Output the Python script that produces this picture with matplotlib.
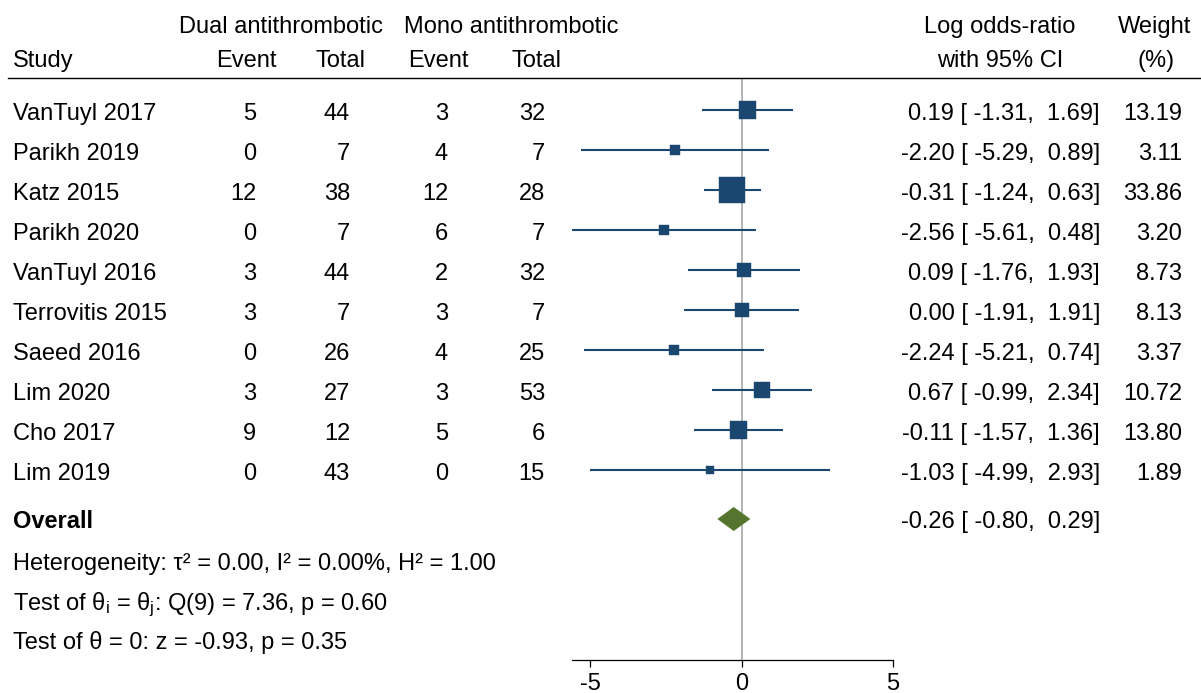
import matplotlib
matplotlib.use("Agg")
import matplotlib.pyplot as plt
import matplotlib.transforms as mtransforms
from matplotlib.lines import Line2D
import numpy as np

# ---------------- data ----------------
studies = ['VanTuyl 2017', 'Parikh 2019', 'Katz 2015', 'Parikh 2020', 'VanTuyl 2016',
           'Terrovitis 2015', 'Saeed 2016', 'Lim 2020', 'Cho 2017', 'Lim 2019']
dual_event = [5, 0, 12, 0, 3, 3, 0, 3, 9, 0]
dual_total = [44, 7, 38, 7, 44, 7, 26, 27, 12, 43]
mono_event = [3, 4, 12, 6, 2, 3, 4, 3, 5, 0]
mono_total = [32, 7, 28, 7, 32, 7, 25, 53, 6, 15]
log_or = [0.19, -2.20, -0.31, -2.56, 0.09, 0.00, -2.24, 0.67, -0.11, -1.03]
ci_low = [-1.31, -5.29, -1.24, -5.61, -1.76, -1.91, -5.21, -0.99, -1.57, -4.99]
ci_high = [1.69, 0.89, 0.63, 0.48, 1.93, 1.91, 0.74, 2.34, 1.36, 2.93]
weights = [13.19, 3.11, 33.86, 3.20, 8.73, 8.13, 3.37, 10.72, 13.80, 1.89]
overall_es, overall_lo, overall_hi = -0.26, -0.80, 0.29
x_ticks = [-5, 0, 5]
stats_lines = [
    'Heterogeneity: τ² = 0.00, I² = 0.00%, H² = 1.00',
    r'Test of θ$_\mathrm{i}$ = θ$_\mathrm{j}$: Q(9) = 7.36, p = 0.60',
    'Test of θ = 0: z = -0.93, p = 0.35',
]

# ---------------- style ----------------
plt.rcParams['font.family'] = ['Liberation Sans', 'DejaVu Sans']
plt.rcParams['mathtext.fontset'] = 'custom'
plt.rcParams['mathtext.rm'] = 'Liberation Sans'
plt.rcParams['mathtext.it'] = 'Liberation Sans:italic'
plt.rcParams['mathtext.bf'] = 'Liberation Sans:bold'
plt.rcParams['axes.unicode_minus'] = False

W, H = 1201, 693
FS = 17
NAVY = '#1a476f'
GREEN = '#55752f'

fig = plt.figure(figsize=(W / 100, H / 100), dpi=100)
fig.patch.set_facecolor('white')

# pixel transform (origin top-left)
px = mtransforms.Affine2D().scale(1 / W, -1 / H).translate(0, 1) + fig.transFigure

# forest axes
ax_left, ax_right, ax_top, ax_bot = 572, 893, 79, 660
fx = fig.add_axes([ax_left / W, 1 - ax_bot / H, (ax_right - ax_left) / W, (ax_bot - ax_top) / H])
fx.set_xlim(-5.6, 5.0)
row0, step = 110, 40
fx.set_ylim((ax_bot - row0) / step, (ax_top - row0) / step)
for s in ['left', 'top', 'right']:
    fx.spines[s].set_visible(False)
fx.spines['bottom'].set_linewidth(0.9)
fx.set_yticks([])
fx.set_xticks(x_ticks)
fx.set_xticklabels([str(t) for t in x_ticks])
fx.tick_params(axis='x', direction='out', length=5.0, width=0.9, labelsize=FS, pad=4.0)
fx.patch.set_alpha(0)

fx.axvline(0, color='#a0a0a0', lw=1.1, zorder=1)

rows = np.arange(len(studies))
fx.hlines(rows, ci_low, ci_high, color=NAVY, lw=1.5, zorder=2)
side_px = 4.0 * np.sqrt(np.array(weights)) + 2.5
fx.scatter(log_or, rows, s=(side_px * 0.72) ** 2, marker='s', color=NAVY,
           edgecolors=NAVY, linewidths=0.3, zorder=3)

r_overall = (519 - row0) / step
dh = 12 / step
fx.fill([overall_lo, overall_es, overall_hi, overall_es],
        [r_overall, r_overall - dh, r_overall, r_overall + dh],
        color=GREEN, lw=0, zorder=3)

# ---------------- text ----------------
def t(x, y, s, ha='left', **kw):
    fig.text(x, y, s, ha=ha, va='baseline', fontsize=FS, transform=px, **kw)

# header
t(281, 33, 'Dual antithrombotic', ha='center')
t(511, 33, 'Mono antithrombotic', ha='center')
t(1000, 33, 'Log odds-ratio', ha='center')
t(1155, 33, 'Weight', ha='center')
t(13, 67, 'Study')
t(277, 67, 'Event', ha='right')
t(366, 67, 'Total', ha='right')
t(469, 67, 'Event', ha='right')
t(561, 67, 'Total', ha='right')
t(1000, 67, 'with 95% CI', ha='center')
t(1156, 67, '(%)', ha='center')
fig.add_artist(Line2D([8, W], [78, 78], color='black', lw=1.0, transform=px))

for i, name in enumerate(studies):
    yb = row0 + step * i + 10
    t(13, yb, name)
    t(256, yb, str(dual_event[i]), ha='right')
    t(350, yb, str(dual_total[i]), ha='right')
    t(448, yb, str(mono_event[i]), ha='right')
    t(545, yb, str(mono_total[i]), ha='right')
    t(1100, yb, f'{log_or[i]:.2f} [{ci_low[i]:6.2f}, {ci_high[i]:5.2f}]', ha='right')
    t(1182, yb, f'{weights[i]:.2f}', ha='right')

t(13, 528, 'Overall', fontweight='bold')
t(1100, 528, f'{overall_es:.2f} [{overall_lo:6.2f}, {overall_hi:5.2f}]', ha='right')
for j, line in enumerate(stats_lines):
    t(13, 570 + 40 * j - (1 if j == 2 else 0), line)

fig.savefig('out.png', dpi=100, facecolor='white')
